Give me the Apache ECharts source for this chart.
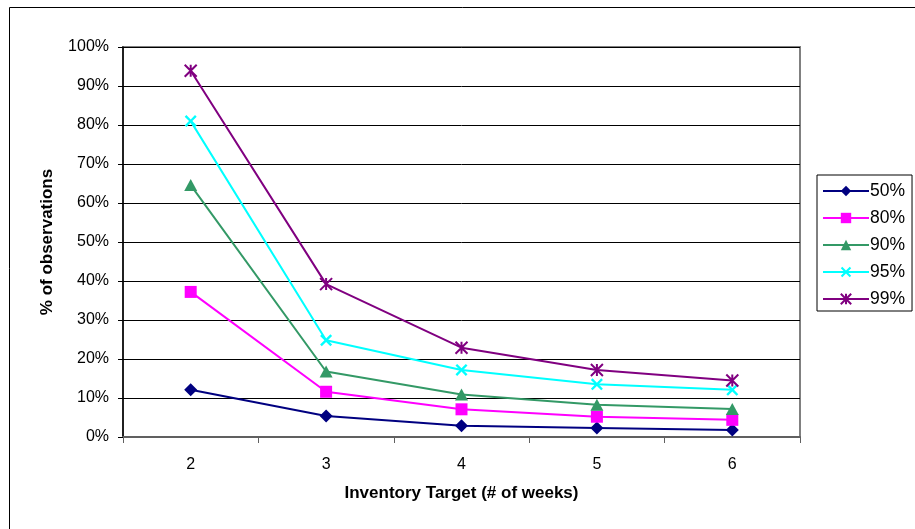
<!DOCTYPE html>
<html><head><meta charset="utf-8">
<script src="https://cdn.jsdelivr.net/npm/echarts@6/dist/echarts.min.js"></script>
<style>html,body{margin:0;padding:0;background:#fff}#c{width:915px;height:529px}</style>
</head><body><div id="c"></div>
<script>
var categories = ['2', '3', '4', '5', '6'];
var seriesNames = ['50%', '80%', '90%', '95%', '99%'];
var s50 = [12.1, 5.4, 2.9, 2.3, 1.8];
var s80 = [37.2, 11.6, 7.1, 5.2, 4.4];
var s90 = [64.6, 16.8, 10.9, 8.3, 7.2];
var s95 = [81.0, 24.8, 17.2, 13.5, 12.1];
var s99 = [93.9, 39.2, 22.9, 17.2, 14.5];
var yTicks = [0, 10, 20, 30, 40, 50, 60, 70, 80, 90, 100];

var colors = ['#000080', '#FF00FF', '#339966', '#00FFFF', '#800080'];
var xPath = 'path://M0,1.4L1.4,0L5,3.6L8.6,0L10,1.4L6.4,5L10,8.6L8.6,10L5,6.4L1.4,10L0,8.6L3.6,5Z';
var starPath = 'path://M0,0L10,10M10,0L0,10M5,0L5,10';
var data = [s50, s80, s90, s95, s99];

function mk(i) {
  var s = {
    name: seriesNames[i], type: 'line', data: data[i],
    lineStyle: {color: colors[i], width: 2},
    itemStyle: {color: colors[i]},
    showAllSymbol: true,
    animation: false
  };
  if (i === 0) { s.symbol = 'diamond'; s.symbolSize = [13, 13]; }
  if (i === 1) { s.symbol = 'rect'; s.symbolSize = 12; }
  if (i === 2) { s.symbol = 'triangle'; s.symbolSize = [13, 12]; }
  if (i === 3) { s.symbol = xPath; s.symbolSize = 12; }
  if (i === 4) { s.symbol = starPath; s.symbolSize = 12;
    s.itemStyle = {color: 'rgba(0,0,0,0)', borderColor: colors[i], borderWidth: 2}; }
  return s;
}

var chart = echarts.init(document.getElementById('c'));
chart.setOption({
  animation: false,
  textStyle: {fontFamily: 'Liberation Sans, Arial, sans-serif'},
  graphic: [{type: 'rect', shape: {x: 9.5, y: 7.5, width: 1000, height: 1000},
    style: {fill: 'none', stroke: '#000', lineWidth: 1}, z: -1}],
  grid: {left: 123, top: 47, right: 115, bottom: 92, show: true,
    borderColor: '#808080', borderWidth: 2, backgroundColor: '#fff'},
  legend: {
    orient: 'vertical', left: 817, top: 175,
    backgroundColor: '#fff', borderColor: '#000', borderWidth: 1,
    padding: [7, 7, 3, 5], itemWidth: 46, itemHeight: 13, itemGap: 9,
    textStyle: {fontSize: 17.5, color: '#000', padding: [0, 0, 0, -4]},
    data: seriesNames
  },
  xAxis: {
    type: 'category', data: categories, boundaryGap: true,
    name: 'Inventory Target (# of weeks)', nameLocation: 'middle', nameGap: 48,
    nameTextStyle: {fontSize: 17, fontWeight: 'bold', color: '#000'},
    axisLine: {lineStyle: {color: '#606060', width: 2}},
    axisTick: {show: true, length: 6, lineStyle: {color: '#606060', width: 1}},
    axisLabel: {fontSize: 16, color: '#000', margin: 20}
  },
  yAxis: {
    type: 'value', min: 0, max: 100, interval: 10,
    name: '% of observations', nameLocation: 'middle', nameGap: 67,
    nameTextStyle: {fontSize: 17, fontWeight: 'bold', color: '#000'},
    axisLine: {show: true, lineStyle: {color: '#000', width: 1.5}},
    axisTick: {show: true, length: 5, lineStyle: {color: '#000'}},
    axisLabel: {fontSize: 16, color: '#000', margin: 14,
      formatter: function (v) { return yTicks.indexOf(v) >= 0 ? v + '%' : ''; }},
    splitLine: {show: true, lineStyle: {color: '#000', width: 1}}
  },
  series: [0, 1, 2, 3, 4].map(mk)
});
</script></body></html>
